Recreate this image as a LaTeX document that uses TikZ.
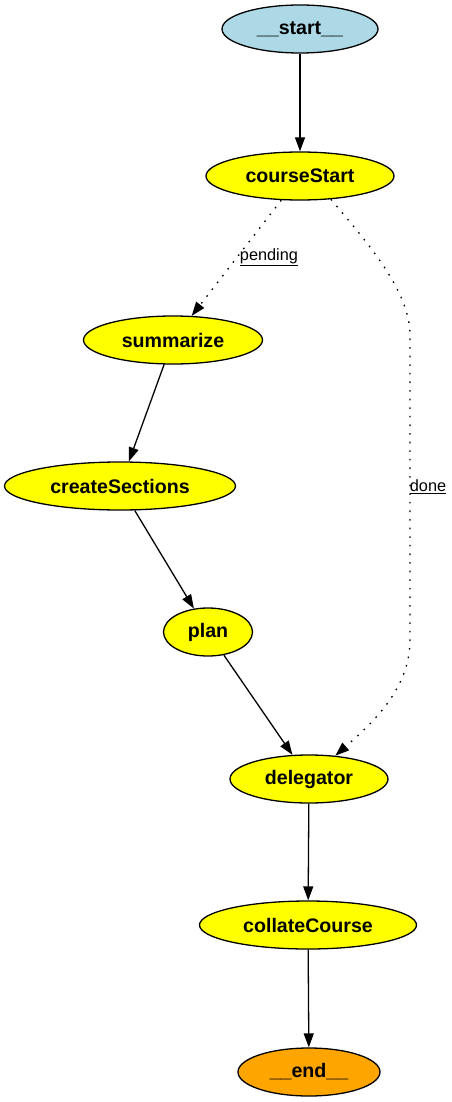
\documentclass[tikz,border=0pt]{standalone}
\usepackage{fontspec}
\setmainfont{Liberation Sans}
\usetikzlibrary{shapes.geometric,arrows.meta}
\definecolor{startblue}{RGB}{173,216,230}
\definecolor{nodeyellow}{RGB}{255,255,0}
\definecolor{endorange}{RGB}{255,165,0}
\begin{document}
\begin{tikzpicture}[x=1pt,y=-1pt,
  gnode/.style={ellipse,draw=black,line width=1.3pt,inner sep=0pt,minimum height=48pt,
    font=\fontsize{19.6}{22}\selectfont\bfseries,text=black},
  yel/.style={gnode,fill=nodeyellow},
  edge/.style={line width=1.3pt,-{Triangle[length=14pt,width=10pt]}},
  dotedge/.style={edge,dash pattern=on 1.6pt off 7pt},
  elabel/.style={font=\fontsize{16.3}{18}\selectfont,text=black,inner sep=0pt}]
\useasboundingbox (0,0) rectangle (451,1102);
\node[gnode,fill=startblue,minimum width=156pt] (start) at (300,29) {\_\_start\_\_};
\node[yel,minimum width=188pt] (cs) at (300,176) {courseStart};
\node[yel,minimum width=179pt] (sum) at (173,340) {summarize};
\node[yel,minimum width=231pt] (cre) at (120,486) {createSections};
\node[yel,minimum width=89pt] (plan) at (208,632) {plan};
\node[yel,minimum width=158pt] (del) at (309,779) {delegator};
\node[yel,minimum width=217pt] (col) at (308,925) {collateCourse};
\node[gnode,fill=endorange,minimum width=142pt] (end) at (309,1072) {\_\_end\_\_};
\coordinate (d1) at (410,335);
\coordinate (d2) at (410,640);
\draw[edge] (start) -- (cs);
\draw[dotedge] (cs) -- (sum);
\draw[dotedge] (cs.-37) .. controls (365,240) and (410,290) .. (d1) -- (d2) .. controls (410,690) and (370,725) .. (del);
\draw[edge] (sum) -- (cre);
\draw[edge] (cre) -- (plan);
\draw[edge] (plan) -- (del);
\draw[edge] (del) -- (col);
\draw[edge] (col) -- (end);
\node[elabel] (lp) at (269,257) {\underline{pending}};
\node[elabel] (ld) at (428,487) {\underline{done}};
\end{tikzpicture}
\end{document}
